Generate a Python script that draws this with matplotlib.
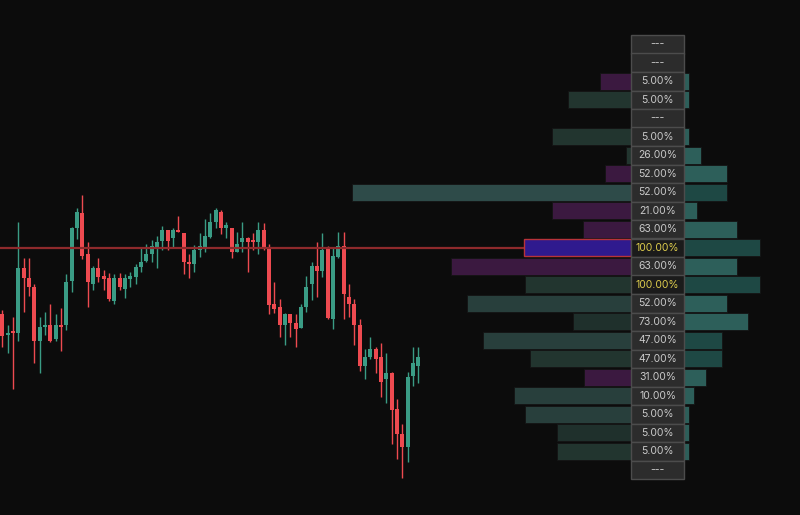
import numpy as np
import matplotlib
matplotlib.use("Agg")
import matplotlib.pyplot as plt

# candles (open, high, low, close), price units
opens = [28.60, 26.47, 26.93, 26.73, 33.17, 32.17, 31.33, 25.93, 27.27, 27.53,
         26.10, 27.53, 27.50, 31.93, 37.23, 38.67, 34.60, 31.57, 33.17, 32.40,
         32.17, 29.90, 32.17, 31.10, 32.13, 32.33, 33.33, 33.93, 34.57, 35.27,
         35.93, 37.00, 36.17, 37.00, 36.67, 33.77, 33.57, 35.00, 35.27, 36.33,
         37.83, 38.83, 37.17, 37.17, 34.77, 35.83, 36.17, 36.00, 35.83, 37.00,
         35.17, 29.57, 29.33, 27.47, 28.57, 27.73, 27.23, 29.27, 31.57, 33.40,
         32.93, 35.27, 28.10, 34.33, 35.40, 30.33, 29.57, 27.50, 23.43, 24.27,
         25.10, 24.27, 22.07, 22.67, 19.07, 16.60, 15.33, 22.40, 23.43]
highs = [29.00, 27.50, 28.33, 37.83, 34.17, 34.17, 31.57, 28.33, 28.77, 29.57,
         28.57, 29.17, 32.60, 37.30, 39.17, 40.50, 35.77, 33.40, 34.17, 33.00,
         32.73, 32.60, 32.73, 32.60, 32.80, 33.60, 35.17, 35.60, 36.00, 36.40,
         37.43, 37.00, 37.17, 38.43, 36.67, 34.57, 35.50, 36.67, 38.07, 38.67,
         39.17, 39.00, 37.83, 37.17, 36.83, 37.83, 36.33, 36.67, 37.83, 37.67,
         35.60, 31.77, 30.10, 28.73, 28.57, 28.57, 29.57, 32.40, 33.83, 35.83,
         36.67, 35.40, 35.17, 36.83, 36.83, 31.60, 30.10, 28.10, 25.10, 26.27,
         25.27, 25.67, 24.67, 22.83, 20.07, 17.60, 22.83, 25.27, 25.33]
lows = [25.33, 24.73, 21.10, 25.93, 28.77, 30.40, 23.73, 22.73, 26.50, 25.83,
        25.93, 24.93, 27.00, 30.83, 36.07, 34.07, 29.33, 31.00, 31.83, 31.00,
        29.93, 29.57, 31.00, 30.17, 31.33, 31.60, 32.80, 33.80, 33.83, 33.17,
        35.00, 35.00, 35.23, 36.80, 32.60, 32.17, 32.77, 34.33, 34.83, 36.23,
        37.17, 36.60, 36.23, 34.17, 34.77, 34.83, 32.83, 35.00, 34.60, 35.00,
        28.57, 28.75, 26.33, 25.50, 26.33, 25.33, 27.17, 28.77, 30.00, 30.33,
        32.33, 28.10, 27.10, 34.17, 28.10, 28.33, 25.50, 22.90, 22.10, 24.07,
        22.73, 20.27, 19.67, 15.60, 14.07, 12.23, 13.83, 21.43, 21.73]
closes = [26.43, 26.73, 26.73, 33.17, 32.17, 31.33, 25.93, 27.33, 27.53, 25.93,
          27.53, 27.33, 31.77, 37.23, 38.83, 34.40, 31.77, 33.17, 32.33, 32.13,
          30.10, 32.17, 31.33, 32.17, 32.40, 33.33, 33.80, 34.60, 35.40, 35.83,
          37.00, 35.93, 37.00, 36.80, 33.77, 33.57, 35.00, 35.40, 36.40, 37.83,
          39.00, 37.17, 37.50, 34.77, 35.57, 36.17, 35.83, 35.83, 37.00, 35.17,
          29.50, 29.07, 27.47, 28.60, 27.73, 27.10, 29.33, 31.33, 33.40, 32.93,
          35.00, 28.23, 34.40, 35.40, 30.60, 29.57, 27.47, 23.43, 24.27, 25.10,
          24.10, 21.83, 22.73, 19.00, 16.60, 15.33, 22.27, 23.67, 24.27]

# volume profile rows, top to bottom
levels = [55.575, 53.725, 51.875, 50.025, 48.175, 46.325, 44.475, 42.625,
          40.775, 38.925, 37.075, 35.225, 33.375, 31.525, 29.675, 27.825,
          25.975, 24.125, 22.275, 20.425, 18.575, 16.725, 14.875, 13.025]
sell_vol = [0, 0, 31, 63, 0, 79, 5, 26, 279, 79, 48, 107,
            180, 106, 164, 58, 148, 101, 47, 117, 106, 74, 74, 0]
buy_vol = [0, 0, 5, 5, 0, 5, 17, 43, 43, 13, 53, 76,
           53, 76, 43, 64, 38, 38, 22, 10, 5, 5, 5, 0]
sell_kind = ['', '', 'm', 'g1', '', 'g1', 'g1', 'm', 'g3', 'm', 'm', 'poc',
             'm', 'g1', 'g2', 'g0', 'g2', 'g1', 'm', 'g2', 'g2', 'g0', 'g1', '']
buy_kind = ['', '', 'l', 'l', '', 'l', 'l', 'l', 'd', 'l', 'l', 'd',
            'l', 'd', 'l', 'l', 'd', 'd', 'l', 'l', 'l', 'l', 'l', '']
labels = ['---', '---', '5.00%', '5.00%', '---', '5.00%', '26.00%', '52.00%',
          '52.00%', '21.00%', '63.00%', '100.00%', '63.00%', '100.00%', '52.00%',
          '73.00%', '47.00%', '47.00%', '31.00%', '10.00%', '5.00%', '5.00%',
          '5.00%', '---']
poc = 11

BG = '#0c0c0c'
UP = '#3a9c85'
DOWN = '#ee4a50'
sell_colors = {'m': '#3b1940', 'poc': '#2f1a8e', 'g0': '#1f302c',
               'g1': '#22352f', 'g2': '#283f3c', 'g3': '#2e4b49'}
buy_colors = {'l': '#2d5f5a', 'd': '#1e4844'}
COL_L, COL_R = 631, 684
ROW_H = 1.85

fig = plt.figure(figsize=(8, 5.15), dpi=100, facecolor=BG)
ax = fig.add_axes([0, 0, 1, 1], facecolor=BG)
ax.set_xlim(-0.431, 149.57)
ax.set_ylim(8.5, 60)
ax.axis('off')

o, h, l, c = map(np.array, (opens, highs, lows, closes))
idx = np.arange(len(o))
col = np.where(c >= o, UP, DOWN)
ax.vlines(idx, l, h, colors=col, lw=1, zorder=2)
body_lo = np.minimum(o, c)
body_h = np.maximum(np.abs(c - o), 0.18)
ax.bar(idx, body_h, bottom=body_lo, width=0.72, color=col, lw=0, zorder=3)

# profile on its own x scale (pixels of bar length)
ax2 = fig.add_axes([0, 0, 1, 1], sharey=ax)
ax2.set_xlim(0, 800)
ax2.patch.set_alpha(0)
ax2.axis('off')

ax2.hlines(levels[poc], 0, COL_L - sell_vol[poc], colors='#8f2a2c', lw=1.6, zorder=1)

for i, y in enumerate(levels):
    if sell_vol[i]:
        k = sell_kind[i]
        ax2.barh(y, sell_vol[i], left=COL_L - sell_vol[i], height=1.67,
                 color=sell_colors[k], edgecolor='#b8333a' if k == 'poc' else '#141414',
                 lw=1.0 if k == 'poc' else 0.6, zorder=2)
    if buy_vol[i]:
        ax2.barh(y, buy_vol[i], left=COL_R, height=1.67,
                 color=buy_colors[buy_kind[i]], edgecolor='#141414', lw=0.6, zorder=2)
    hot = labels[i] == '100.00%'
    ax2.barh(y, COL_R - COL_L, left=COL_L, height=ROW_H,
             color='#1b1b1b' if hot else '#2c2c2c', edgecolor='#4c4c4c', lw=1, zorder=3)
    ax2.text((COL_L + COL_R) / 2, y, labels[i], ha='center', va='center',
             fontsize=7.5, family=['Inter', 'DejaVu Sans'],
             color='#dccb4c' if hot else '#c9c9c9', zorder=4)

fig.savefig('out.png', dpi=100, facecolor=BG)
